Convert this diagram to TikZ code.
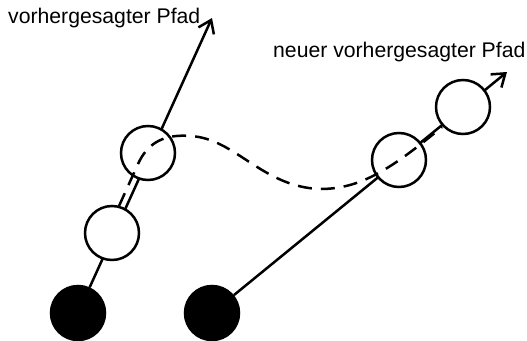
\documentclass[tikz,border=0pt]{standalone}
\usepackage{fontspec}
\setmainfont{Liberation Sans}
\usetikzlibrary{arrows.meta}
\begin{document}
\begin{tikzpicture}[x=1pt,y=-1pt,
  ln/.style={line width=2.5pt},
  ball/.style={circle,draw,line width=2.5pt,minimum size=54pt,inner sep=0pt},
  hollow/.style={ball,fill=white},
  solid ball/.style={ball,fill=black},
  arr/.style={ln,-{Straight Barb[length=12pt,width=17pt,line width=2.5pt]}},
  path/.style={ln,dash pattern=on 14pt off 9pt},
  lbl/.style={font=\fontsize{21.2}{24}\selectfont,inner sep=0pt,anchor=base west}]
\useasboundingbox (0,0) rectangle (527,340);
% tips
\coordinate (t1) at (212,18);
\coordinate (t2) at (507,72);
% black balls
\node[solid ball] (bl) at (78,313) {};
\node[solid ball] (br) at (212,313) {};
% predicted paths
\draw[arr] (bl) -- (t1);
\draw[arr] (br) -- (t2);
% white balls
\node[hollow] (w1) at (112,233) {};
\node[hollow] (w2) at (148,153) {};
\node[hollow] (w3) at (399,160) {};
\node[hollow] (w4) at (463,107) {};
% actual path
\coordinate (d0) at (119,206);
\coordinate (d1) at (138,164);
\coordinate (d2) at (190,136);
\coordinate (d3) at (320,189);
\coordinate (d4) at (442,127);
\draw[path] (d0) -- (d1) .. controls (148,142) and (165,134) .. (d2)
  .. controls (235,138) and (262,187) .. (d3)
  .. controls (360,189) and (390,170) .. (d4);
% labels
\node[lbl] (l1) at (8,23.5) {vorhergesagter Pfad};
\node[lbl] (l2) at (273,57.3) {neuer vorhergesagter Pfad};
\end{tikzpicture}
\end{document}
